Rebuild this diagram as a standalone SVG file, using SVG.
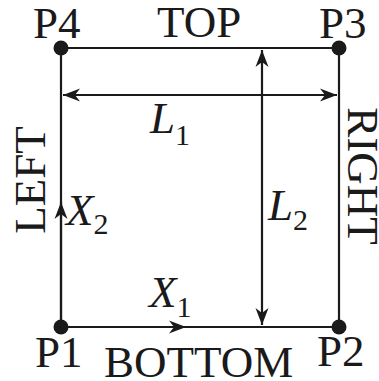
<svg xmlns="http://www.w3.org/2000/svg" width="379" height="381" viewBox="0 0 379 381">
<style>
.ln{stroke:#1a1a1a;stroke-width:2.2;fill:none}
.t{font-family:"Liberation Serif","Times New Roman",serif;font-size:45px;fill:#1a1a1a}
.i{font-style:italic}
.s{font-size:30px;font-style:normal}
.dot{fill:#1a1a1a}
</style>
<defs>
<marker id="ah" markerUnits="userSpaceOnUse" markerWidth="20" markerHeight="16" viewBox="-18 -8 20 16" refX="0" refY="0" orient="auto-start-reverse">
<path d="M0,0 L-17,-6.5 L-12,0 L-17,6.5 Z" fill="#1a1a1a"/>
</marker>
</defs>
<g id="edges">
<line class="ln" x1="61" y1="48" x2="339" y2="48"/>
<line class="ln" x1="339" y1="48" x2="339" y2="327"/>
<line class="ln" x1="61" y1="48" x2="61" y2="327"/>
<line class="ln" x1="61" y1="327" x2="339" y2="327"/>
<line class="ln" x1="63" y1="95" x2="337" y2="95" marker-start="url(#ah)" marker-end="url(#ah)"/>
<line class="ln" x1="262" y1="50" x2="262" y2="325" marker-start="url(#ah)" marker-end="url(#ah)"/>
<line class="ln" x1="61" y1="327" x2="186" y2="327" marker-end="url(#ah)"/>
<line class="ln" x1="61" y1="327" x2="61" y2="202" marker-end="url(#ah)"/>
</g>
<g id="P4"><circle class="dot" cx="61" cy="48" r="7.5"/><text class="t" x="33" y="38">P4</text></g>
<g id="P3"><circle class="dot" cx="339" cy="48" r="7.5"/><text class="t" x="319" y="38">P3</text></g>
<g id="P1"><circle class="dot" cx="61" cy="327" r="7.5"/><text class="t" x="35" y="367">P1</text></g>
<g id="P2"><circle class="dot" cx="339" cy="327" r="7.5"/><text class="t" x="317" y="366">P2</text></g>
<g id="labels">
<text class="t" x="157" y="37">TOP</text>
<text class="t" x="104" y="377">BOTTOM</text>
<text class="t" transform="translate(45,180) rotate(-90)" text-anchor="middle">LEFT</text>
<text class="t" transform="translate(348,176) rotate(90)" text-anchor="middle">RIGHT</text>
<text class="t i" x="150" y="133">L<tspan class="s" dy="12">1</tspan></text>
<text class="t i" x="268" y="220">L<tspan class="s" dy="10">2</tspan></text>
<text class="t i" x="66" y="225">X<tspan class="s" dy="9">2</tspan></text>
<text class="t i" x="149" y="307">X<tspan class="s" dy="10">1</tspan></text>
</g>
</svg>
